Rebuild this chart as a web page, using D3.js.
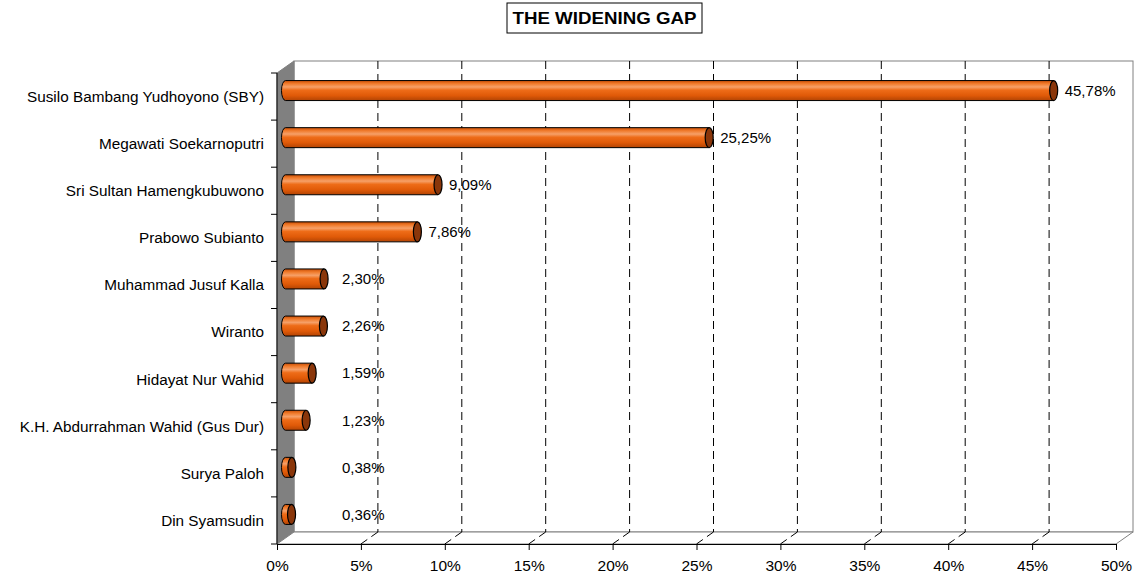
<!DOCTYPE html>
<html><head><meta charset="utf-8">
<script src="https://cdn.jsdelivr.net/npm/d3@7"></script>
<style>body{margin:0;background:#fff}svg{display:block}text{font-family:"Liberation Sans",Arial,sans-serif}</style>
</head><body><svg id="c" width="1136" height="579"></svg>
<script>
const title = "THE WIDENING GAP";
const categories = ["Susilo Bambang Yudhoyono (SBY)","Megawati Soekarnoputri","Sri Sultan Hamengkubuwono","Prabowo Subianto","Muhammad Jusuf Kalla","Wiranto","Hidayat Nur Wahid","K.H. Abdurrahman Wahid (Gus Dur)","Surya Paloh","Din Syamsudin"];
const values = [45.78,25.25,9.09,7.86,2.30,2.26,1.59,1.23,0.38,0.36];
const valueLabels = ["45,78%","25,25%","9,09%","7,86%","2,30%","2,26%","1,59%","1,23%","0,38%","0,36%"];
const ticks = [0,5,10,15,20,25,30,35,40,45,50];
const tickLabels = ["0%","5%","10%","15%","20%","25%","30%","35%","40%","45%","50%"];

const svg = d3.select("#c");
const DX = 17, DY = -12;
const x = d3.scaleLinear().domain([0,50]).range([277,1116]);
const y = d3.scaleBand().domain(categories).range([73,544]);
const yTop = y.range()[0], yBot = y.range()[1];
const x0 = x(0), x1 = x(50);

const defs = svg.append("defs");
const g = defs.append("linearGradient").attr("id","cyl").attr("x1",0).attr("y1",0).attr("x2",0).attr("y2",1);
[[0,"#c84e06"],[0.15,"#f07a2a"],[0.32,"#f6a068"],[0.48,"#ee6c18"],[0.75,"#e05a08"],[1,"#b24404"]].forEach(([o,c])=>g.append("stop").attr("offset",o).attr("stop-color",c));

svg.append("rect").attr("x",x0+DX).attr("y",yTop+DY).attr("width",x1-x0).attr("height",yBot-yTop).attr("fill","#fff").attr("stroke","#808080").attr("stroke-width",1);
svg.append("polygon").attr("points",[[x0,yTop],[x0+DX,yTop+DY],[x0+DX,yBot+DY],[x0,yBot]].join(" ")).attr("fill","#808080").attr("stroke","#808080");
svg.append("polygon").attr("points",[[x0,yBot],[x0+DX,yBot+DY],[x1+DX,yBot+DY],[x1,yBot]].join(" ")).attr("fill","#fff").attr("stroke","#808080");

const gt = ticks.filter(t=>t>0 && t<50);
svg.append("g").selectAll("line").data(gt).join("line")
  .attr("x1",d=>x(d)+DX).attr("x2",d=>x(d)+DX).attr("y1",yTop+DY).attr("y2",yBot+DY)
  .attr("stroke","#000").attr("stroke-dasharray","8,5").attr("stroke-width",1);
svg.append("g").selectAll("line").data(gt).join("line")
  .attr("x1",d=>x(d)+DX).attr("x2",d=>x(d)).attr("y1",yBot+DY).attr("y2",yBot)
  .attr("stroke","#000").attr("stroke-dasharray","8,5").attr("stroke-width",1);

const ax = svg.append("g").attr("transform",`translate(0,${yBot})`).call(d3.axisBottom(x).tickValues(ticks).tickFormat((d,i)=>tickLabels[i]).tickSize(6).tickPadding(10));
ax.select(".domain").attr("stroke","#000");
ax.selectAll("line").attr("stroke","#000");
ax.selectAll("text").attr("font-size",15.5).attr("font-family","Liberation Sans, Arial, sans-serif").attr("fill","#000");
const bounds = categories.map(c=>y(c)).concat([yBot]);
svg.append("g").selectAll("line").data(bounds).join("line")
  .attr("x1",x0-6).attr("x2",x0).attr("y1",d=>d).attr("y2",d=>d).attr("stroke","#000");
svg.append("line").attr("x1",x0).attr("x2",x0).attr("y1",yTop).attr("y2",yBot).attr("stroke","#000");
svg.append("g").selectAll("text").data(categories).join("text")
  .attr("x",x0-13).attr("y",d=>y(d)+y.bandwidth()/2).attr("dy","0.35em")
  .attr("text-anchor","end").attr("font-size",15.3).text(d=>d);

const R = 10, RX = 4;
const bars = svg.append("g").selectAll("g").data(categories).join("g");
bars.each(function(c,i){
  const gg = d3.select(this);
  const cy = y(c)+y.bandwidth()/2 + DY/2;
  const sx = x(0)+DX/2, ex = x(values[i])+DX/2;
  const p = `M${ex},${cy-R} L${sx},${cy-R} A${RX},${R} 0 0 0 ${sx},${cy+R} L${ex},${cy+R} Z`;
  gg.append("path").attr("d",p).attr("fill","url(#cyl)").attr("stroke","#000").attr("stroke-width",1);
  gg.append("ellipse").attr("cx",ex).attr("cy",cy).attr("rx",RX).attr("ry",R).attr("fill","#8a360a").attr("stroke","#000").attr("stroke-width",1.2);
  gg.append("text").attr("x",Math.max(ex+11,342)).attr("y",cy).attr("dy","0.35em").attr("font-size",15).text(valueLabels[i]);
});

svg.append("rect").attr("x",507).attr("y",3).attr("width",195).attr("height",30).attr("fill","#fff").attr("stroke","#000");
svg.append("text").attr("x",604.5).attr("y",18).attr("dy","0.35em").attr("text-anchor","middle").attr("font-size",17).attr("font-weight","bold").attr("textLength",184).attr("lengthAdjust","spacingAndGlyphs").text(title);
</script></body></html>
